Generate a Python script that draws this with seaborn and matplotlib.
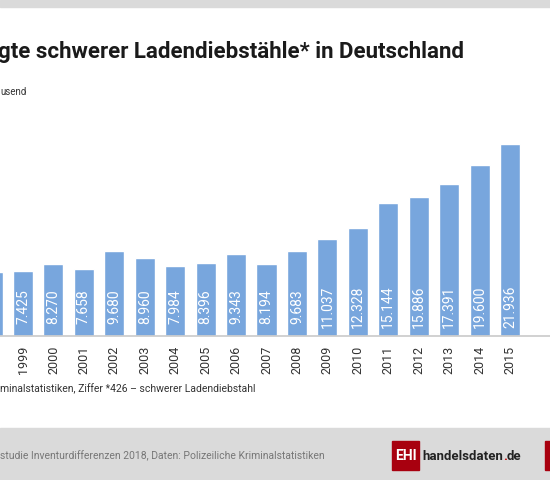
import matplotlib.pyplot as plt
import matplotlib.patches as mpatches
import seaborn as sns
import pandas as pd

years = ["1998", "1999", "2000", "2001", "2002", "2003", "2004", "2005", "2006",
         "2007", "2008", "2009", "2010", "2011", "2012", "2013", "2014", "2015"]
values = [7300, 7425, 8270, 7658, 9680, 8960, 7984, 8396, 9343,
          8194, 9683, 11037, 12328, 15144, 15886, 17391, 19600, 21936]
# 1998 is cut off at the left edge in the reference, so its texts are not shown
labels = ["", "7.425", "8.270", "7.658", "9.680", "8.960", "7.984", "8.396", "9.343",
          "8.194", "9.683", "11.037", "12.328", "15.144", "15.886", "17.391", "19.600", "21.936"]
tick_labels = [""] + years[1:]

df = pd.DataFrame({"Jahr": years, "Fälle": values})

sns.set_theme(style="white")
plt.rcParams["font.family"] = ["Roboto", "DejaVu Sans"]

W, H = 550, 480
fig = plt.figure(figsize=(W / 100, H / 100), dpi=100)

# grey bands
fig.patches.append(mpatches.Rectangle((0, 1 - 7 / H), 1, 7 / H, transform=fig.transFigure,
                                      color="#dadada", zorder=0))
fig.patches.append(mpatches.Rectangle((0, 0), 1, 52 / H, transform=fig.transFigure,
                                      color="#dadada", zorder=0))

base = 336
top = 126
ax = fig.add_axes([0, (H - base) / H, 1, (base - top) / H])
sns.barplot(data=df, x="Jahr", y="Fälle", color="#78a6dd", width=0.66,
            saturation=1, ax=ax)
spacing = 30.44
c1999 = 23
ax.set_xticks(range(len(years)))
ax.set_xticklabels(tick_labels)
ax.set_xlim(1 - c1999 / spacing, 1 + (W - c1999) / spacing)
ax.set_ylim(0, (base - top) / 8.75 * 1000)
ax.set_yticks([])
ax.set_xlabel("")
ax.set_ylabel("")
for s in ["top", "left", "right"]:
    ax.spines[s].set_visible(False)
ax.spines["bottom"].set_color("#cccccc")
ax.tick_params(axis="x", length=0, pad=7, labelsize=9, labelcolor="#333333",
               rotation=90)

for i, lab in enumerate(labels):
    ax.annotate(lab, (i, 0), xytext=(0, 21), textcoords="offset points",
                rotation=90, ha="center", va="center", color="white", fontsize=10)

fig.text(-0.003, 1 - 52 / H, "gte schwerer Ladendiebstähle* in Deutschland",
         fontsize=16, fontweight="bold", color="#1a1a1a", va="center", ha="left")
fig.text(0, 1 - 92 / H, "usend", fontsize=7, color="#333333", va="center")
fig.text(0, 1 - 389 / H, "minalstatistiken, Ziffer *426 \u2013 schwerer Ladendiebstahl",
         fontsize=7.5, color="#333333", va="center")
fig.text(0, 1 - 456 / H,
         "studie Inventurdifferenzen 2018, Daten: Polizeiliche Kriminalstatistiken",
         fontsize=7.5, color="#777777", va="center")

# logo
fig.patches.append(mpatches.Rectangle((392 / W, 1 - 470 / H), 27 / W, 29 / H,
                                      transform=fig.transFigure, color="#a8000f", zorder=1))
fig.text(405.5 / W, 1 - 456 / H, "EHI", fontsize=10, fontweight="bold", color="white",
         ha="center", va="center")
r = fig.canvas.get_renderer()
x = 422
for part, col in [("handelsdaten", "#222222"), (".", "#c00000"), ("de", "#222222")]:
    t = fig.text(x / W, 1 - 456 / H, part, fontsize=9.5, fontweight="bold",
                 color=col, va="center")
    x += t.get_window_extent(r).width
fig.patches.append(mpatches.Rectangle((545 / W, 1 - 470 / H), 10 / W, 29 / H,
                                      transform=fig.transFigure, color="#a8000f", zorder=1))

fig.savefig("out.png", dpi=100)
